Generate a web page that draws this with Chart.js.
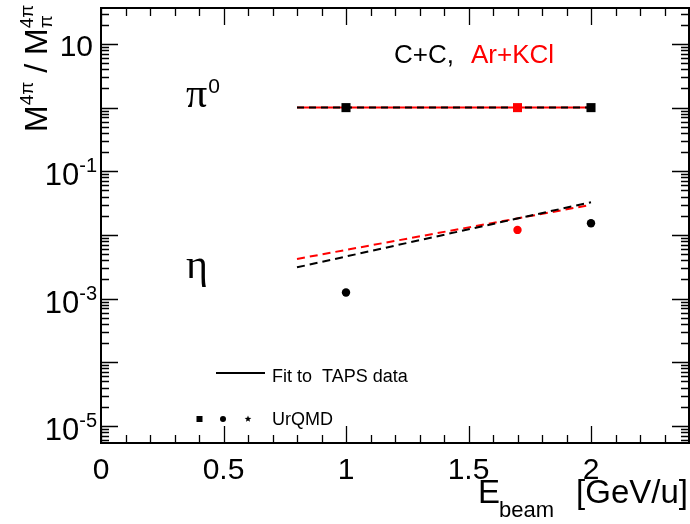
<!DOCTYPE html>
<html>
<head>
<meta charset="utf-8">
<script src="https://cdn.jsdelivr.net/npm/chart.js@4"></script>
<style>
  body { margin: 0; background: #fff; }
  canvas { display: block; }
</style>
</head>
<body>
<canvas id="ratioChart" width="690" height="524"></canvas>
<script>
// beam energies [GeV/u] and 4pi multiplicity ratios M/M_pi
const pi0CCEnergy = [1, 2];
const pi0CC = [1, 1];
const pi0ArEnergy = [1.7];
const pi0Ar = [1];
const etaCCEnergy = [1, 2];
const etaCC = [1.25e-3, 0.0153];
const etaArEnergy = [1.7];
const etaAr = [0.012];

// TAPS fits
const fitEnergy = [0.8, 2.0];
const fitPi0 = [1, 1];
const fitEtaCC = [3.1e-3, 0.0327];
const fitEtaAr = [4.2e-3, 0.0297];

// axis ticks
const xMajorTicks = [0, 0.5, 1, 1.5, 2];
const xTickLabels = ['0', '0.5', '1', '1.5', '2'];
const yLabelExponents = [1, -1, -3, -5];

const toPoints = (xs, ys) => xs.map((x, i) => ({ x: x, y: ys[i] }));

const SANS = '"Liberation Sans", Arial, Helvetica, sans-serif';
const SERIF = '"Liberation Serif", "Times New Roman", serif';

function font(size, fam) {
  return size + 'px ' + (fam || SANS);
}

// ticks, frame and all the text
const frameAndText = {
  id: 'frameAndText',
  afterDraw(chart) {
    const ctx = chart.ctx;
    const area = chart.chartArea;
    const xs = chart.scales.x;
    const ys = chart.scales.y;
    ctx.save();
    ctx.strokeStyle = '#000';
    ctx.fillStyle = '#000';

    // x ticks (bottom and top)
    ctx.lineWidth = 1.3;
    for (let i = 0; i <= 24; i++) {
      const v = i / 10;
      const px = Math.round(xs.getPixelForValue(v)) + 0.5;
      const len = (i % 5 === 0) ? 17 : 8;
      ctx.beginPath();
      ctx.moveTo(px, area.bottom);
      ctx.lineTo(px, area.bottom - len);
      ctx.moveTo(px, area.top);
      ctx.lineTo(px, area.top + len);
      ctx.stroke();
    }

    // y ticks (left and right)
    for (let d = -6; d <= 1; d++) {
      for (let k = 1; k <= 9; k++) {
        const v = k * Math.pow(10, d);
        if (v < ys.min || v > ys.max) continue;
        const py = Math.round(ys.getPixelForValue(v)) + 0.5;
        const len = k === 1 ? 17 : 8;
        ctx.beginPath();
        ctx.moveTo(area.left, py);
        ctx.lineTo(area.left + len, py);
        ctx.moveTo(area.right, py);
        ctx.lineTo(area.right - len, py);
        ctx.stroke();
      }
    }

    // frame
    ctx.lineWidth = 2;
    ctx.strokeRect(area.left, area.top, area.right - area.left, area.bottom - area.top);

    // x tick labels
    ctx.font = font(30);
    ctx.textAlign = 'center';
    ctx.textBaseline = 'alphabetic';
    xMajorTicks.forEach((v, i) => {
      ctx.fillText(xTickLabels[i], xs.getPixelForValue(v), 479);
    });

    // y tick labels, 10 with exponent
    ctx.textAlign = 'left';
    yLabelExponents.forEach(e => {
      const py = ys.getPixelForValue(Math.pow(10, e));
      const rightEdge = 97;
      if (e === 1) {
        ctx.font = font(30);
        ctx.textAlign = 'right';
        ctx.fillText('10', rightEdge - 4, py + 12);
        ctx.textAlign = 'left';
        return;
      }
      const sup = String(e);
      ctx.font = font(20);
      const wSup = ctx.measureText(sup).width;
      ctx.font = font(31);
      const wBase = ctx.measureText('10').width;
      const x0 = rightEdge - wSup - wBase;
      ctx.fillText('10', x0, py + 14);
      ctx.font = font(20);
      ctx.fillText(sup, x0 + wBase, py + 1);
    });

    // y axis title, rotated
    ctx.save();
    ctx.translate(47, 132);
    ctx.rotate(-Math.PI / 2);
    ctx.textAlign = 'left';
    let cx = 0;
    ctx.font = font(32);
    ctx.fillText('M', cx, 0);
    cx += ctx.measureText('M').width;
    ctx.font = font(19);
    ctx.fillText('4\u03c0', cx, -14);
    cx += ctx.measureText('4\u03c0').width;
    ctx.font = font(32);
    ctx.fillText(' / ', cx, 0);
    cx += ctx.measureText(' / ').width;
    ctx.fillText('M', cx, 0);
    cx += ctx.measureText('M').width;
    ctx.font = font(19);
    ctx.fillText('4\u03c0', cx, -14);
    ctx.fillText('\u03c0', cx, 5);
    ctx.restore();

    // x axis title
    ctx.font = font(33);
    ctx.textAlign = 'left';
    ctx.fillText('E', 478, 503);
    const wE = ctx.measureText('E').width;
    ctx.font = font(22);
    ctx.fillText('beam', 477 + wE, 517);
    ctx.font = font(33);
    ctx.textAlign = 'right';
    ctx.fillText('[GeV/u]', 688, 503);

    // system labels
    ctx.textAlign = 'left';
    ctx.font = font(26);
    ctx.fillStyle = '#000';
    ctx.fillText('C+C,', 394, 63);
    ctx.fillStyle = '#ff0000';
    ctx.fillText('Ar+KCl', 471, 63);

    // particle labels
    ctx.fillStyle = '#000';
    ctx.font = font(42, SERIF);
    ctx.fillText('\u03c0', 186, 107);
    const wPi = ctx.measureText('\u03c0').width;
    ctx.font = font(21);
    ctx.fillText('0', 186 + wPi + 1, 93);
    ctx.font = font(42, SERIF);
    ctx.fillText('\u03b7', 186, 278);

    // legend
    ctx.lineWidth = 2;
    ctx.beginPath();
    ctx.moveTo(216, 373);
    ctx.lineTo(265, 373);
    ctx.stroke();
    ctx.font = font(18);
    ctx.fillText('Fit to  TAPS data', 272, 382);
    ctx.fillText('UrQMD', 272, 425);
    ctx.fillRect(196.5, 416, 6, 6);
    ctx.beginPath();
    ctx.arc(223, 419, 3, 0, Math.PI * 2);
    ctx.fill();
    ctx.beginPath();
    for (let i = 0; i < 10; i++) {
      const r = i % 2 === 0 ? 3.5 : 1.5;
      const a = -Math.PI / 2 + i * Math.PI / 5;
      const px = 248 + r * Math.cos(a);
      const py = 419 + r * Math.sin(a);
      if (i === 0) ctx.moveTo(px, py); else ctx.lineTo(px, py);
    }
    ctx.closePath();
    ctx.fill();

    ctx.restore();
  }
};

const lineSet = (data, color, dash, order) => ({
  data: data,
  showLine: true,
  borderColor: color,
  borderWidth: 2,
  borderDash: dash,
  pointRadius: 0,
  fill: false,
  order: order
});

const markerSet = (data, color, style, radius) => ({
  data: data,
  showLine: false,
  pointStyle: style,
  pointRadius: radius,
  pointBackgroundColor: color,
  pointBorderColor: color,
  pointBorderWidth: 0,
  order: 0
});

const ctx = document.getElementById('ratioChart').getContext('2d');

const ratioChart = new Chart(ctx, {
  type: 'scatter',
  data: {
    datasets: [
      lineSet(toPoints(fitEnergy, fitPi0), '#ff0000', [], 4),
      lineSet(toPoints(fitEnergy, fitPi0), '#000000', [7, 5], 3),
      lineSet(toPoints(fitEnergy, fitEtaAr), '#ff0000', [8, 5], 2),
      lineSet(toPoints(fitEnergy, fitEtaCC), '#000000', [8, 5], 1),
      markerSet(toPoints(pi0CCEnergy, pi0CC), '#000000', 'rect', 6.4),
      markerSet(toPoints(pi0ArEnergy, pi0Ar), '#ff0000', 'rect', 6.4),
      markerSet(toPoints(etaCCEnergy, etaCC), '#000000', 'circle', 4.2),
      markerSet(toPoints(etaArEnergy, etaAr), '#ff0000', 'circle', 4.2)
    ]
  },
  options: {
    responsive: false,
    animation: false,
    layout: { autoPadding: false, padding: { left: 101, top: 8, right: 1, bottom: 81 } },
    plugins: { legend: { display: false }, tooltip: { enabled: false } },
    scales: {
      x: { type: 'linear', min: 0, max: 2.4, display: false },
      y: { type: 'logarithmic', min: 5.4e-6, max: 36.7, display: false }
    }
  },
  plugins: [frameAndText]
});
</script>
</body>
</html>
